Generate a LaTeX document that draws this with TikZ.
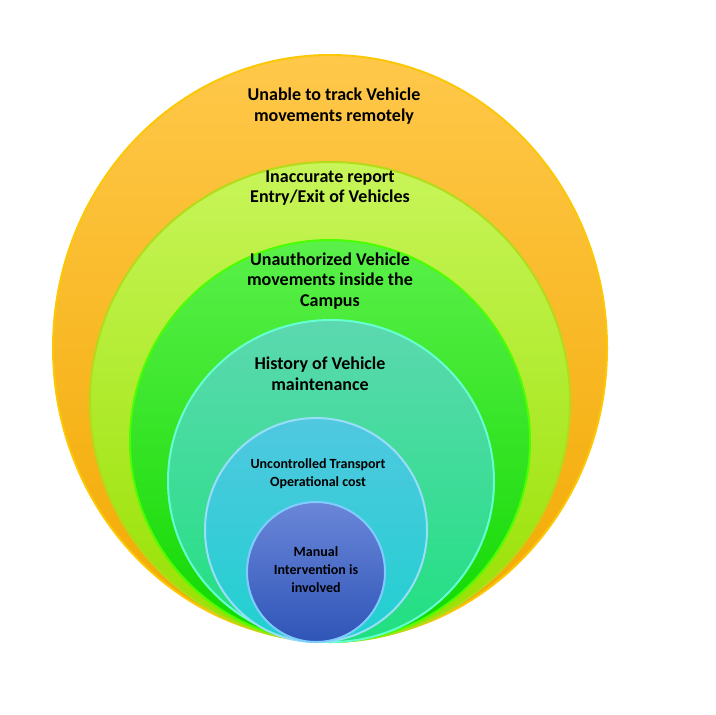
\documentclass[tikz,border=0pt]{standalone}
\usepackage{fontspec}
\setmainfont{Carlito}
\begin{document}
\begin{tikzpicture}[x=0.75pt,y=-0.75pt,
  lab/.style={align=center,font=\bfseries\fontsize{13.5}{15.5}\selectfont,text=black},
  labs/.style={align=center,font=\bfseries\fontsize{10.5}{13.5}\selectfont,text=black}]
\useasboundingbox (0,0) rectangle (716,714);
\definecolor{o1}{HTML}{FFC84A}\definecolor{o2}{HTML}{F2A900}
\definecolor{y1}{HTML}{C8F55A}\definecolor{y2}{HTML}{96E000}
\definecolor{g1}{HTML}{5AF04A}\definecolor{g2}{HTML}{10D800}
\definecolor{t1}{HTML}{5CD8B0}\definecolor{t2}{HTML}{20E080}
\definecolor{c1}{HTML}{50C8E0}\definecolor{c2}{HTML}{20D0D0}
\definecolor{b1}{HTML}{6A86D8}\definecolor{b2}{HTML}{2F55B8}
\fill[top color=o1,bottom color=o2,draw=yellow!60!orange,line width=1.5pt] (330,348) ellipse [x radius=277,y radius=293];
\fill[top color=y1,bottom color=y2,draw=yellow!70!green,line width=1.5pt] (330,402) ellipse [x radius=240,y radius=240];
\fill[top color=g1,bottom color=g2,draw=green!60!lime,line width=1.5pt] (330,441) ellipse [x radius=200,y radius=201];
\fill[top color=t1,bottom color=t2,draw=green!30!cyan!60,line width=1.5pt] (331,481) ellipse [x radius=163,y radius=161];
\fill[top color=c1,bottom color=c2,draw=cyan!40,line width=1.5pt] (316,530) ellipse [x radius=111,y radius=112];
\fill[top color=b1,bottom color=b2,draw=blue!40!cyan!50,line width=1.5pt] (316,572) ellipse [x radius=69,y radius=70];
\node[lab] (t1) at (334,106) {Unable to track Vehicle\\movements remotely};
\node[lab] (t2) at (330,188) {Inaccurate report\\Entry/Exit of Vehicles};
\node[lab] (t3) at (330,281) {Unauthorized Vehicle\\movements inside the\\Campus};
\node[lab] (t4) at (320,374) {History of Vehicle\\maintenance};
\node[labs] (t5) at (318,474) {Uncontrolled Transport\\Operational cost};
\node[labs] (t6) at (316,570) {Manual\\Intervention is\\involved};
\end{tikzpicture}
\end{document}
